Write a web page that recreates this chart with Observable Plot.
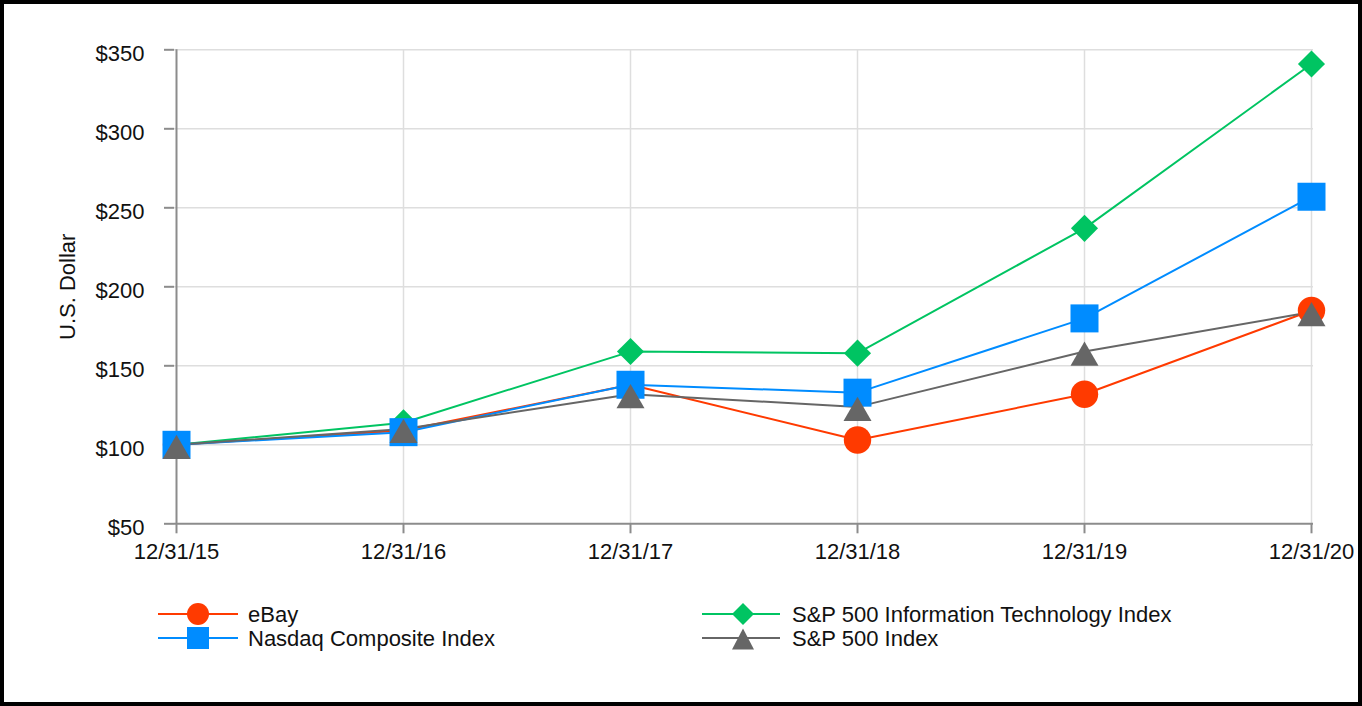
<!DOCTYPE html>
<html><head><meta charset="utf-8">
<script src="https://cdn.jsdelivr.net/npm/d3@7"></script>
<script src="https://cdn.jsdelivr.net/npm/@observablehq/plot@0.6"></script>
<style>
html,body{margin:0;padding:0;background:#fff;}
#frame{position:relative;width:1362px;height:706px;box-sizing:border-box;border:4px solid #000;font-family:"Liberation Sans",Arial,sans-serif;overflow:hidden;background:#fff;}
#chart{position:absolute;left:0;top:0;}
#legend{position:absolute;left:0;top:586px;}
</style></head><body>
<div id="frame"><div id="chart"></div><svg id="legend" width="1354" height="90"></svg></div>
<script>
// ---- data ----
const dates = ["12/31/15", "12/31/16", "12/31/17", "12/31/18", "12/31/19", "12/31/20"];
const seriesNames = ["eBay", "S&P 500 Information Technology Index", "Nasdaq Composite Index", "S&P 500 Index"];
const ebay   = [100, 109, 138, 103, 132, 185];
const spIT   = [100, 114, 159, 158, 237, 341];
const nasdaq = [100, 108, 138, 133, 180, 257];
const sp500  = [100, 110, 132, 124, 159, 184];
const yTicks = [50, 100, 150, 200, 250, 300, 350];
const yLabel = "U.S. Dollar";

const seriesValues = [ebay, spIT, nasdaq, sp500];
const colors  = ["#ff3a00", "#00c462", "#008cff", "#666666"];
const symbols = ["circle", "diamond2", "square", "triangle"];
const radii   = [13.7, 12.2, 15.8, 10.4];
const dys     = [0, 0, 0, 6];

const rows = seriesNames.flatMap((s, i) => dates.map((d, j) => ({series: s, date: d, value: seriesValues[i][j]})));

const axisColor = "#8c8c8c";
const gridColor = "#dedede";
const FS = 22;

const marks = [
  Plot.gridY(yTicks.slice(1), {stroke: gridColor, strokeOpacity: 1, strokeWidth: 1.5}),
  Plot.gridX(dates.slice(1), {stroke: gridColor, strokeOpacity: 1, strokeWidth: 1.5}),
  Plot.ruleY([yTicks[0]], {stroke: axisColor, strokeWidth: 2}),
  Plot.ruleX([dates[0]], {stroke: axisColor, strokeWidth: 2}),
  Plot.axisY({ticks: yTicks, tickSize: 10, fill: "none", stroke: axisColor, strokeWidth: 2, label: null}),
  Plot.axisY({ticks: yTicks, tickSize: 10, tickPadding: 20, stroke: "none", fill: "#111", fontSize: FS, dy: 4, tickFormat: d => "$" + d, label: null}),
  Plot.axisX({tickSize: 10, tickPadding: 10, stroke: axisColor, strokeWidth: 2, fill: "#111", fontSize: FS, label: null}),
  Plot.text([yLabel], {frameAnchor: "left", textAnchor: "middle", dx: -107, rotate: -90, text: d => d, fontSize: FS, fill: "#111"})
];
seriesNames.forEach((s, i) => {
  const data = rows.filter(r => r.series === s);
  marks.push(Plot.line(data, {x: "date", y: "value", stroke: colors[i], strokeWidth: 2}));
});
seriesNames.forEach((s, i) => {
  const data = rows.filter(r => r.series === s);
  marks.push(Plot.dot(data, {x: "date", y: "value", fill: colors[i], stroke: "none", symbol: symbols[i], r: radii[i], dy: dys[i]}));
});

const chart = Plot.plot({
  width: 1354,
  height: 560,
  marginLeft: 170,
  marginRight: 45,
  marginTop: 45.3,
  marginBottom: 40.7,
  style: {fontFamily: '"Liberation Sans", Arial, sans-serif', background: "white", color: "#111"},
  x: {type: "point", domain: dates, padding: 0, label: null},
  y: {domain: [50, 350], label: null},
  marks
});
document.getElementById("chart").appendChild(chart);

// ---- legend ----
const lg = d3.select("#legend");
const legendItems = [
  {i: 0, x0: 154, x1: 234, mx: 194, tx: 244, y: 24},
  {i: 2, x0: 154, x1: 234, mx: 194, tx: 244, y: 48},
  {i: 1, x0: 698, x1: 776, mx: 739, tx: 788, y: 24},
  {i: 3, x0: 698, x1: 776, mx: 739, tx: 788, y: 48}
];
const shape = (sym, cx, cy) => {
  if (sym === "circle") return `M${cx - 11},${cy}a11,11 0 1,0 22,0a11,11 0 1,0 -22,0Z`;
  if (sym === "square") return `M${cx - 11},${cy - 11}h22v22h-22Z`;
  if (sym === "diamond2") return `M${cx},${cy - 11}L${cx + 11},${cy}L${cx},${cy + 11}L${cx - 11},${cy}Z`;
  return `M${cx},${cy - 9.5}L${cx + 11},${cy + 11.5}L${cx - 11},${cy + 11.5}Z`;
};
legendItems.forEach(it => {
  const g = lg.append("g");
  g.append("line").attr("x1", it.x0).attr("x2", it.x1).attr("y1", it.y).attr("y2", it.y)
    .attr("stroke", colors[it.i]).attr("stroke-width", 2);
  g.append("path").attr("d", shape(symbols[it.i], it.mx, it.y)).attr("fill", colors[it.i]);
  g.append("text").attr("x", it.tx).attr("y", it.y).attr("dy", "0.36em")
    .attr("font-size", FS).attr("fill", "#111")
    .attr("font-family", '"Liberation Sans", Arial, sans-serif')
    .text(seriesNames[it.i]);
});
</script>
</body></html>
